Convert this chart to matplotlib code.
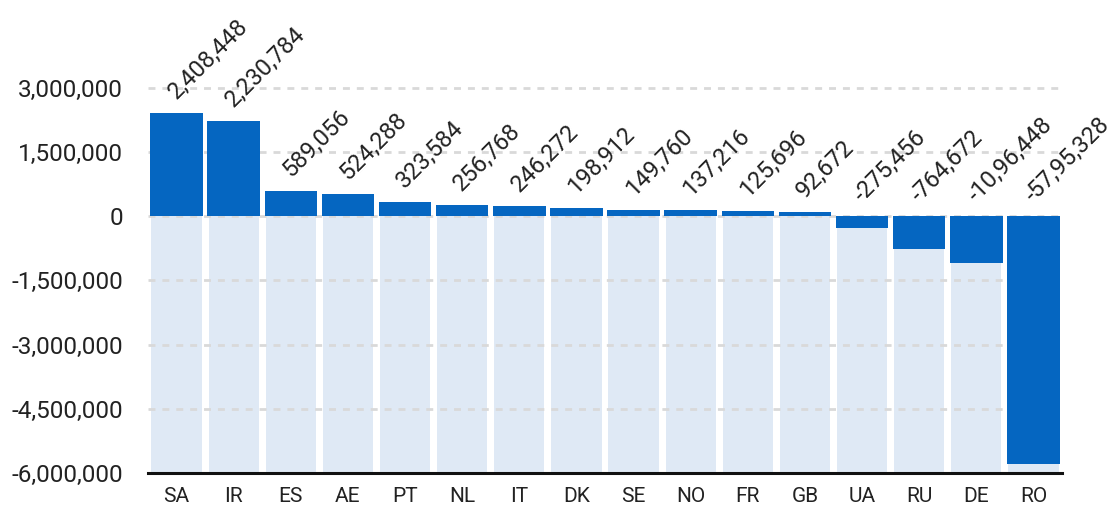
import matplotlib
matplotlib.use("Agg")
from matplotlib import pyplot as plt
from matplotlib.ticker import FuncFormatter

plt.rcParams['font.family'] = ['Roboto', 'DejaVu Sans']

countries = ["SA", "IR", "ES", "AE", "PT", "NL", "IT", "DK", "SE", "NO", "FR", "GB", "UA", "RU", "DE", "RO"]
values = [2408448, 2230784, 589056, 524288, 323584, 256768, 246272, 198912, 149760,
          137216, 125696, 92672, -275456, -764672, -1096448, -5795328]
# labels as printed on the chart (the last two use a different grouping)
value_labels = ["2,408,448", "2,230,784", "589,056", "524,288", "323,584", "256,768", "246,272",
                "198,912", "149,760", "137,216", "125,696", "92,672", "-275,456", "-764,672",
                "-10,96,448", "-57,95,328"]
y_ticks = [3000000, 1500000, 0, -1500000, -3000000, -4500000, -6000000]

dark = "#0566c1"
light = "#dfe9f5"
y_min = -6000000
y_max = 5050000

fig = plt.figure(figsize=(11.15, 5.07), dpi=100)
ax = fig.add_axes([0.1327, 0.067, 0.8198, 0.933])

x = range(len(countries))
# light background bars from 0 down to the axis bottom
ax.bar(x, [y_min] * len(countries), width=0.88, color=light, zorder=1)
for t in y_ticks[:-1]:
    ax.axhline(t, color="#d9d9d9", lw=2, ls=(0, (2.5, 2.5)), zorder=1.5)
ax.bar(x, values, width=0.92, color=dark, zorder=2)

for i, (v, s) in enumerate(zip(values, value_labels)):
    ax.annotate(s, xy=(i, max(v, 0)), xytext=(2.5, 7), textcoords="offset points",
                rotation=45, rotation_mode="anchor", ha="left", va="bottom",
                fontsize=17, color="#222222", zorder=3)

ax.set_xlim(-0.5, len(countries) - 0.5)
ax.set_ylim(y_min, y_max)
ax.set_yticks(y_ticks)
ax.yaxis.set_major_formatter(FuncFormatter(lambda v, p: f"{int(v):,}"))
ax.set_xticks(list(x))
ax.set_xticklabels(countries)
ax.tick_params(axis="y", length=0, pad=18, labelsize=17.5, labelcolor="#222222")
ax.tick_params(axis="x", length=0, pad=10, labelsize=15, labelcolor="#222222")

for side in ["top", "right", "left"]:
    ax.spines[side].set_visible(False)
ax.spines["bottom"].set_color("#111111")
ax.spines["bottom"].set_linewidth(2.2)
ax.spines["bottom"].set_zorder(4)

plt.savefig("out.png", dpi=100)
